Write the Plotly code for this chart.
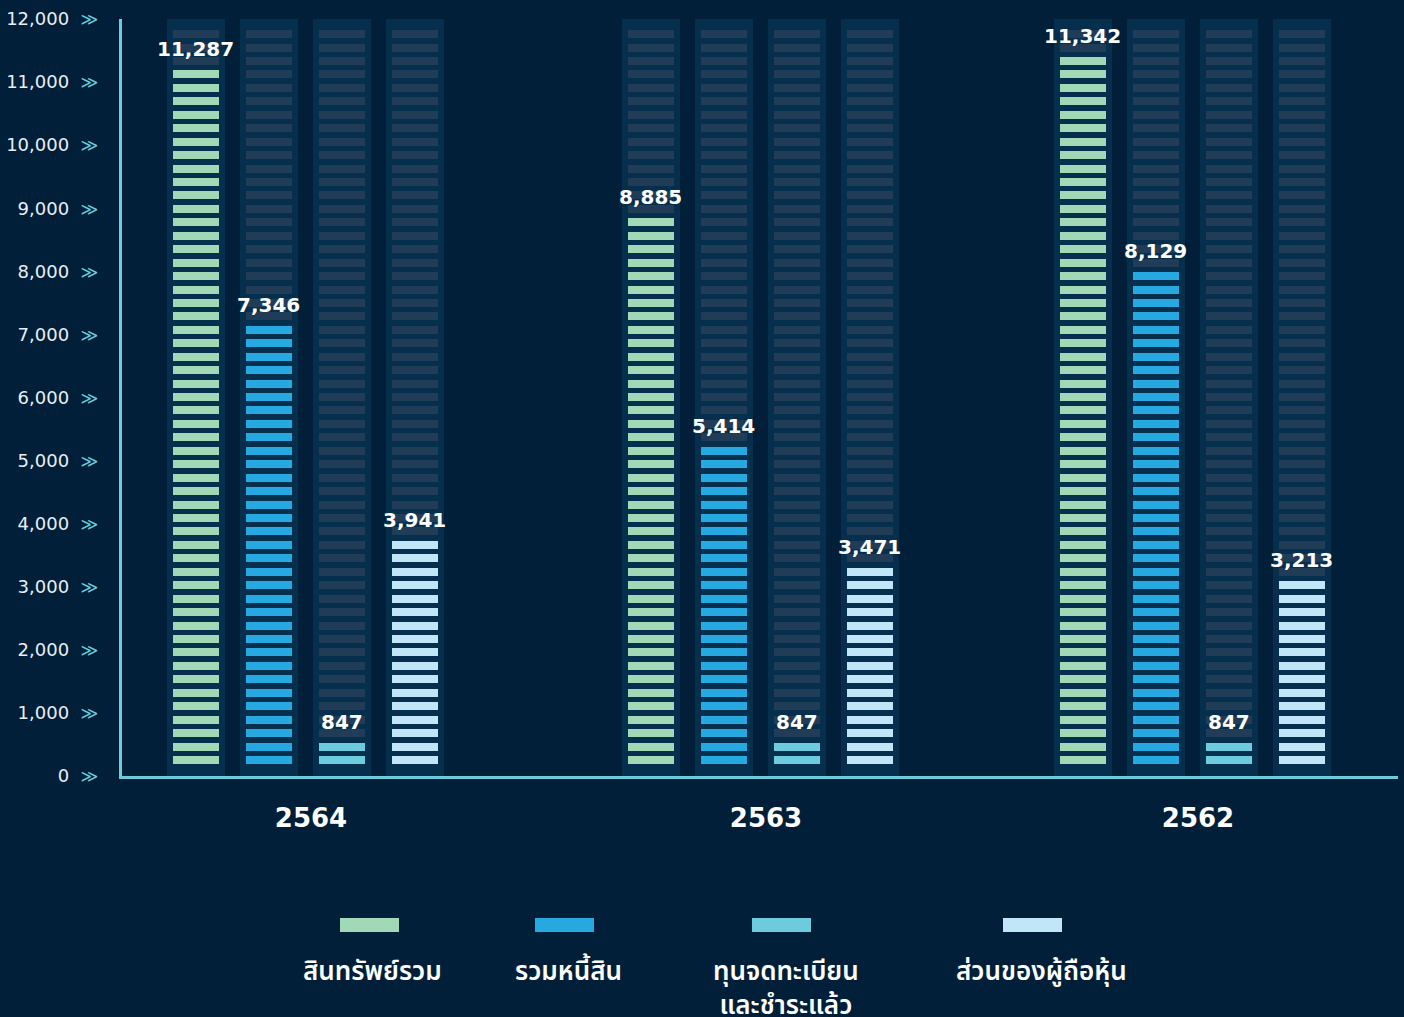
import math
import plotly.graph_objects as go

# ---------------- data ----------------
years = ["2564", "2563", "2562"]
series_names = ["สินทรัพย์รวม", "รวมหนี้สิน", "ทุนจดทะเบียน<br>และชำระแล้ว", "ส่วนของผู้ถือหุ้น"]
total_assets = [11287, 8885, 11342]
total_liabilities = [7346, 5414, 8129]
paid_up_capital = [847, 847, 847]
shareholders_equity = [3941, 3471, 3213]
y_ticks = [0, 1000, 2000, 3000, 4000, 5000, 6000, 7000, 8000, 9000, 10000, 11000, 12000]

series_values = [total_assets, total_liabilities, paid_up_capital, shareholders_equity]

# ---------------- styles / layout ----------------
COLORS = ["#a1d8b5", "#26a8e0", "#6ccbdc", "#c0e6f8"]
BG = "#011f38"
COL_BG = "#052f4c"
EMPTY = "#213c56"
AXIS = "#6ccbdc"

W, H = 1404, 1017
L, R, T, B = 122, 6, 19, 241
PW = W - L - R
PH = H - T - B
X_RANGE = PW
GROUP_X = [183, 638, 1070]
BAR_OFFSETS = [-109.5, -36.5, 36.5, 109.5]
COL_W = 58
STRIPE_W = 46
Y_MAX = 12000
STRIPE_BASE0 = 190
STRIPE_PITCH = 213.1
STRIPE_H = 127
N_SLOTS = 55


def n_stripes(v):
    return int(math.floor(v / 208.4 - 1.41))


def px(x):
    return (x - L) / PW


def py(y):
    return (H - B - y) / PH


fig = go.Figure()

# background columns
col_x = [gx + off for gx in GROUP_X for off in BAR_OFFSETS]
fig.add_trace(go.Bar(x=col_x, y=[Y_MAX + 30] * len(col_x), base=[-30] * len(col_x),
                     width=COL_W, marker=dict(color=COL_BG, line=dict(width=0)),
                     hoverinfo="skip", showlegend=False))

# empty stripe slots
ex, eb = [], []
for cx in col_x:
    for k in range(N_SLOTS):
        ex.append(cx)
        eb.append(STRIPE_BASE0 + k * STRIPE_PITCH)
fig.add_trace(go.Bar(x=ex, y=[STRIPE_H] * len(ex), base=eb, width=STRIPE_W,
                     marker=dict(color=EMPTY, line=dict(width=0)),
                     hoverinfo="skip", showlegend=False))

# filled stripes
annotations = []
for s, vals in enumerate(series_values):
    fx, fb = [], []
    for g, v in enumerate(vals):
        cx = GROUP_X[g] + BAR_OFFSETS[s]
        n = n_stripes(v)
        for k in range(n):
            fx.append(cx)
            fb.append(STRIPE_BASE0 + k * STRIPE_PITCH)
        top = STRIPE_BASE0 + (n - 1) * STRIPE_PITCH + STRIPE_H
        annotations.append(dict(x=cx, y=top, xref="x", yref="y", text=f"{v:,}",
                                showarrow=False, yanchor="bottom", yshift=7,
                                font=dict(family="DejaVu Sans", size=20, color="#ffffff", weight=700)))
    fig.add_trace(go.Bar(x=fx, y=[STRIPE_H] * len(fx), base=fb, width=STRIPE_W,
                         marker=dict(color=COLORS[s], line=dict(width=0)),
                         name=series_names[s], hoverinfo="skip", showlegend=False))

# legend (manual)
LEG_X = [369.5, 564.5, 781.5, 1032.5]
LEG_TEXT_X = [372, 568, 786, 1041]
shapes = []
for i, name in enumerate(series_names):
    shapes.append(dict(type="rect", xref="paper", yref="paper",
                       x0=px(LEG_X[i] - 29.5), x1=px(LEG_X[i] + 29.5),
                       y0=py(932), y1=py(918), fillcolor=COLORS[i], line=dict(width=0)))
    annotations.append(dict(x=px(LEG_TEXT_X[i]), y=py(950), xref="paper", yref="paper",
                            text=name, showarrow=False, xanchor="center", yanchor="top",
                            font=dict(family="Noto Sans Thai, Noto Sans, sans-serif", size=26,
                                      color="#ffffff", weight=600)))

tick_text = [f"{v:,}&nbsp;&nbsp;<span style='color:{AXIS};font-size:17px'>≫</span>"
             for v in y_ticks]

fig.update_layout(
    width=W, height=H,
    margin=dict(l=L, r=R, t=T, b=B, pad=0, autoexpand=False),
    paper_bgcolor=BG, plot_bgcolor=BG,
    barmode="overlay", bargap=0,
    showlegend=False,
    shapes=shapes,
    annotations=annotations,
    xaxis=dict(range=[0, X_RANGE], showgrid=False, zeroline=False, automargin=False,
               showline=True, linecolor=AXIS, linewidth=3,
               tickmode="array", tickvals=GROUP_X, ticktext=years,
               ticks="", ticklabelstandoff=17, ticklabelshift=6,
               tickfont=dict(family="DejaVu Sans", size=26, color="#ffffff", weight=700)),
    yaxis=dict(range=[0, Y_MAX], showgrid=False, zeroline=False, automargin=False,
               showline=True, linecolor=AXIS, linewidth=3,
               tickmode="array", tickvals=y_ticks, ticktext=tick_text,
               ticks="", ticklabelstandoff=17,
               tickfont=dict(family="DejaVu Sans", size=18, color="#e8eef4")),
)

fig.write_html("out.html", config={"displayModeBar": False},
               post_script="document.body.style.margin='0';document.body.style.background='%s';" % BG)
